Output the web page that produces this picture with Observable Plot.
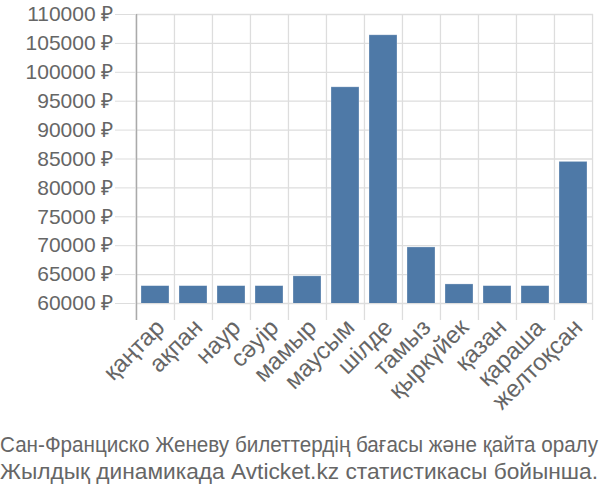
<!DOCTYPE html>
<html><head><meta charset="utf-8">
<script src="https://cdn.jsdelivr.net/npm/d3@7"></script>
<script src="https://cdn.jsdelivr.net/npm/@observablehq/plot@0.6"></script>
<style>
body{margin:0;background:#fff;font-family:"Liberation Sans",Arial,sans-serif}
#caption{display:block}
</style></head><body>
<div id="chart"></div>
<svg id="caption" width="600" height="70" xmlns="http://www.w3.org/2000/svg">
  <text x="0" y="22" font-family="'Liberation Sans', Arial, sans-serif" font-size="22" fill="#666" textLength="598" lengthAdjust="spacingAndGlyphs">Сан-Франциско Женеву билеттердің бағасы және қайта оралу</text>
  <text x="0" y="49" font-family="'Liberation Sans', Arial, sans-serif" font-size="22" fill="#666" textLength="598" lengthAdjust="spacingAndGlyphs">Жылдық динамикада Avticket.kz статистикасы бойынша.</text>
</svg>
<script>
const months = ["қаңтар","ақпан","наур","сәуір","мамыр","маусым","шілде","тамыз","қыркүйек","қазан","қараша","желтоқсан"];
const prices = [63000,63000,63000,63000,64700,97400,106400,69700,63300,63000,63000,84500];
const yTicks = [60000,65000,70000,75000,80000,85000,90000,95000,100000,105000,110000];
const yDomain = [60000,110000];
const currency = " ₽";

const W = 600, H = 430, mL = 136, mR = 7, mT = 14, mB = 127;
const step = (W - mL - mR) / months.length;
const data = months.map((m, i) => ({month: m, price: prices[i]}));

const chart = Plot.plot({
  width: W, height: H,
  marginLeft: mL, marginRight: mR, marginTop: mT, marginBottom: mB,
  style: {fontFamily: "'Liberation Sans', Arial, sans-serif", fontSize: "21px", background: "#fff"},
  x: {domain: months, paddingInner: 0.26, paddingOuter: 0.13, label: null},
  y: {domain: yDomain, label: null},
  marks: [
    Plot.gridY(yTicks, {stroke: "#ddd", strokeOpacity: 1, strokeWidth: 1.3}),
    Plot.ruleX(months, {x: d => d, dx: -step / 2, stroke: "#ddd", strokeWidth: 1.3, insetBottom: -17}),
    Plot.ruleX([months[months.length - 1]], {x: d => d, dx: step / 2, stroke: "#ddd", strokeWidth: 1.3, insetBottom: -17}),
    Plot.ruleX([months[0]], {x: d => d, dx: -step / 2, stroke: "#aaa", strokeWidth: 1.5, insetBottom: -17}),
    Plot.barY(data, {x: "month", y: "price", fill: "#4e79a7", stroke: "#fff", strokeOpacity: 0.4, strokeWidth: 0.7, clip: true}),
    Plot.axisY(yTicks, {tickSize: 21, tickPadding: 2, tickFormat: d => d + currency, stroke: "#ddd", fill: "#666", fontSize: 21, label: null}),
    Plot.axisX({tickSize: 0, tickRotate: -45, tickPadding: 20, fill: "#666", fontSize: 24, label: null, dx: 5})
  ]
});
document.getElementById("chart").appendChild(chart);
</script>
</body></html>
